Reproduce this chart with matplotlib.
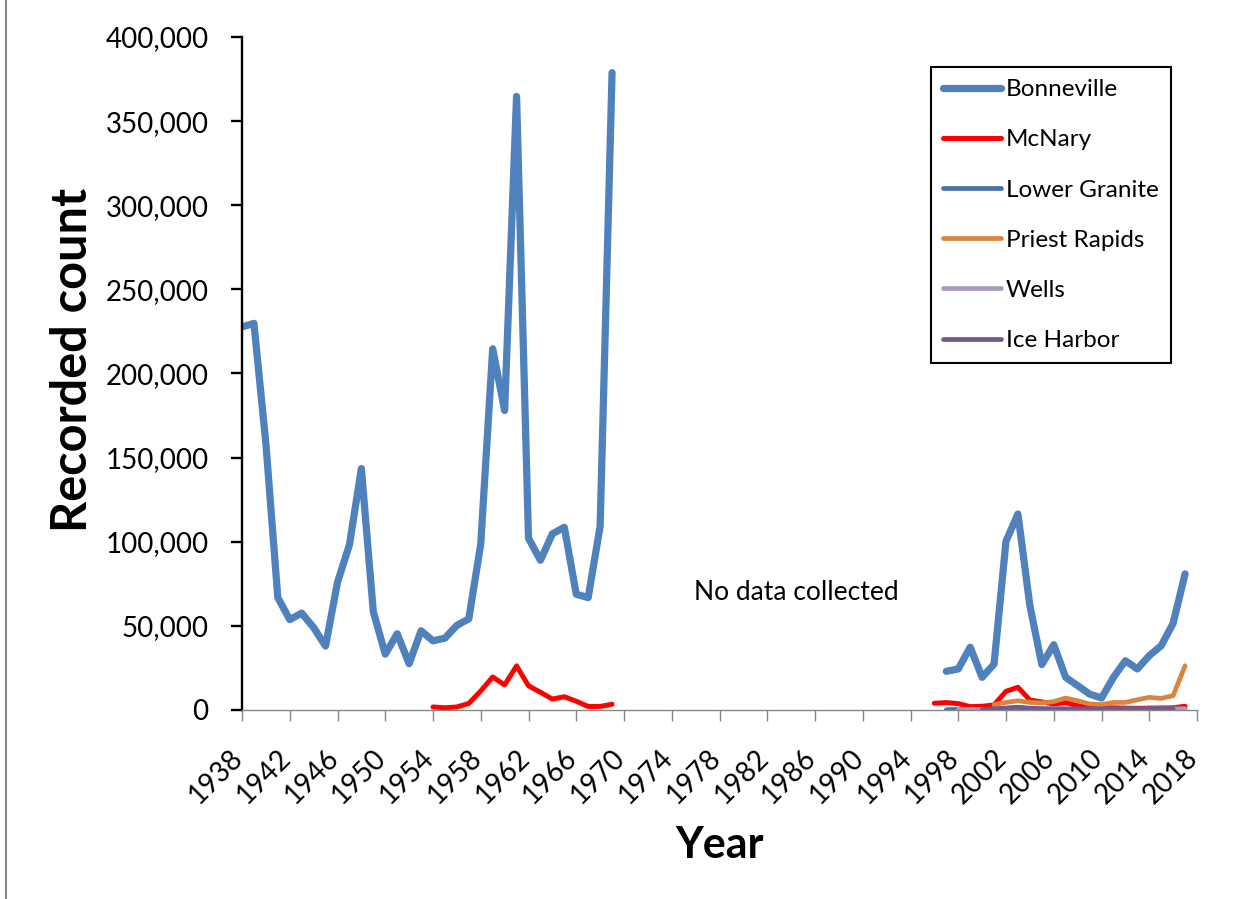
import numpy as np
import matplotlib.pyplot as plt
from matplotlib.lines import Line2D
from matplotlib.transforms import ScaledTranslation

plt.rcParams['font.family'] = ['Lato', 'DejaVu Sans']

# years for each stretch of data
early = list(range(1938, 1970))
mcnary_early_years = list(range(1954, 1970))
late = list(range(1997, 2018))
mcnary_late_years = list(range(1996, 2018))
priest_years = list(range(2001, 2018))
wells_years = list(range(1998, 2018))
ice_years = list(range(2000, 2017))

bonneville_early = [227700, 229800, 158400, 66800, 53700, 57600, 49000, 38000, 75900, 98200,
                    143500, 58400, 33200, 45300, 27500, 47100, 41100, 42700, 50300, 54200,
                    98700, 214700, 178000, 364700, 102100, 89000, 104700, 108600, 68800, 66800,
                    109200, 378800]
bonneville_late = [23000, 24400, 37300, 19400, 27300, 100300, 116500, 62000, 27000, 38800,
                   19400, 14500, 9500, 7100, 19400, 29300, 24400, 32300, 38200, 51500, 80900]
mcnary_early = [1800, 1300, 1800, 3900, 11300, 19600, 14900, 26200, 14400, 10500, 6500, 7900,
                5200, 2100, 2100, 3400]
mcnary_late = [4000, 4400, 3800, 2000, 2200, 3000, 11100, 13500, 5900, 4800, 3600, 4400, 2600,
               1600, 1200, 1300, 1100, 1000, 1100, 1200, 1300, 2200]
lower_granite = [200, 300, 200, 300, 500, 900, 1500, 800, 500, 500, 400, 400, 300, 300, 400,
                 500, 400, 400, 500, 600, 700]
priest_rapids = [3200, 4500, 5500, 4500, 4200, 5000, 7100, 5500, 3600, 3200, 4500, 4500, 6100,
                 7500, 6900, 8500, 26300]
wells = [200, 300, 300, 400, 600, 800, 600, 500, 500, 500, 400, 400, 400, 500, 500, 500, 600,
         600, 600, 700]
ice_harbor = [300, 600, 1200, 1600, 1100, 800, 700, 700, 600, 600, 600, 600, 700, 700, 700,
              700, 700]


def joined(x1, y1, x2, y2):
    # put a gap between the two periods
    return x1 + [np.nan] + x2, y1 + [np.nan] + y2


fig = plt.figure(figsize=(12.51, 8.99), dpi=100)
ax = fig.add_axes([242/1251, 1 - 710/899, (1197-242)/1251, (710-37)/899])

kw = dict(solid_capstyle='round', solid_joinstyle='round')
x, y = joined(early, bonneville_early, late, bonneville_late)
ax.plot(x, y, color='#4F81BD', lw=5.2, label='Bonneville', **kw)
x, y = joined(mcnary_early_years, mcnary_early, mcnary_late_years, mcnary_late)
ax.plot(x, y, color='#FF0000', lw=3.6, label='McNary', **kw)
ax.plot(late, lower_granite, color='#4572A7', lw=3.4, label='Lower Granite', **kw)
ax.plot(priest_years, priest_rapids, color='#DB843D', lw=3.4, label='Priest Rapids', **kw)
ax.plot(wells_years, wells, color='#A99BBD', lw=3.4, label='Wells', **kw)
ax.plot(ice_years, ice_harbor, color='#71588F', lw=3.4, label='Ice Harbor', **kw)

ax.set_xlim(1938, 2018)
ax.set_ylim(0, 400000)
ax.set_xticks(range(1938, 2019, 4))
ax.set_yticks(range(0, 400001, 50000))
ax.yaxis.set_major_formatter(plt.FuncFormatter(lambda v, p: f'{int(v):,}'))
ax.tick_params(axis='x', direction='out', length=8, width=1, color='#868686',
               labelsize=20, pad=17)
ax.tick_params(axis='y', direction='out', length=8, width=1.7, color='black',
               labelsize=20, pad=16)
shift = ScaledTranslation(6/100, 0, fig.dpi_scale_trans)
for lab in ax.get_xticklabels():
    lab.set_rotation(45)
    lab.set_ha('right')
    lab.set_transform(lab.get_transform() + shift)

ax.spines['top'].set_visible(False)
ax.spines['right'].set_visible(False)
ax.spines['left'].set_linewidth(1.7)
ax.spines['bottom'].set_color('#868686')
ax.spines['bottom'].set_linewidth(1)

ax.set_ylabel('Recorded count', fontsize=35, fontweight='bold', va='center')
ax.yaxis.set_label_coords(-0.178, 0.52)
ax.set_xlabel('Year', fontsize=31, fontweight='bold', va='center')
ax.xaxis.set_label_coords(0.5, -0.2006)

ax.text(1975.9, 70000, 'No data collected', fontsize=19, va='center', ha='left')

leg = ax.legend(loc='upper right', bbox_to_anchor=(0.9728, 0.9554), borderaxespad=0,
                fontsize=17.5, fancybox=False, edgecolor='black', framealpha=1,
                handlelength=2.4, handletextpad=0.2, labelspacing=1.2, borderpad=0.5)
leg.get_frame().set_linewidth(1.5)

fig.add_artist(Line2D([6/1251, 6/1251], [0, 1], transform=fig.transFigure,
                      color='#868686', lw=1.5))

fig.savefig('out.png', dpi=100)
